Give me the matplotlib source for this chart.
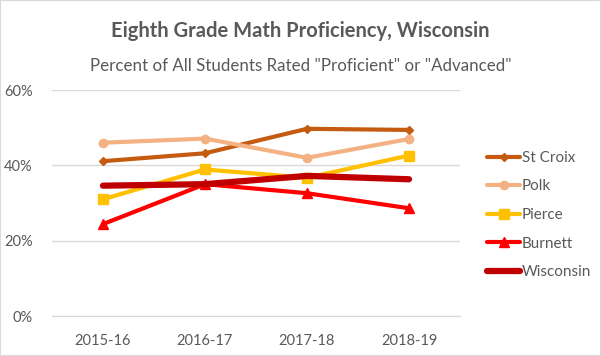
import matplotlib
matplotlib.use("Agg")
import matplotlib.pyplot as plt
from matplotlib.ticker import FuncFormatter
from matplotlib.patches import Rectangle

years = ["2015-16", "2016-17", "2017-18", "2018-19"]
st_croix = [41.1, 43.2, 49.7, 49.4]
polk = [46.0, 47.1, 42.0, 47.0]
pierce = [31.0, 38.9, 36.7, 42.6]
burnett = [24.4, 35.0, 32.6, 28.6]
wisconsin = [34.6, 35.0, 37.2, 36.3]

series = [
    ("St Croix", st_croix, "#C55A11", "D", 3, 4.5),
    ("Polk", polk, "#F4B183", "o", 3, 6),
    ("Pierce", pierce, "#FFC000", "s", 3, 7),
    ("Burnett", burnett, "#FF0000", "^", 3, 7),
    ("Wisconsin", wisconsin, "#C00000", None, 4.5, 0),
]

plt.rcParams['font.family'] = ['Lato', 'DejaVu Sans']
fig = plt.figure(figsize=(6.01, 3.56), dpi=100)
fig.patches.append(Rectangle((0, 0), 1, 1, transform=fig.transFigure,
                             fill=False, edgecolor="#D9D9D9", linewidth=1.5))

ax = fig.add_axes([52/601, 1-316/356, (460-52)/601, (316-90)/356])
x = list(range(len(years)))
for name, vals, color, marker, lw, ms in series:
    ax.plot(x, vals, color=color, lw=lw, marker=marker, markersize=ms,
            label=name, solid_capstyle="round")

ax.set_ylim(0, 60)
ax.set_xlim(-0.5, 3.5)
ax.set_yticks([0, 20, 40, 60])
ax.yaxis.set_major_formatter(FuncFormatter(lambda v, p: f"{v:.0f}%"))
ax.set_xticks(x)
ax.set_xticklabels(years)
ax.grid(axis="y", color="#D9D9D9", lw=1)
ax.set_axisbelow(True)
for s in ["top", "right", "left"]:
    ax.spines[s].set_visible(False)
ax.spines["bottom"].set_color("#D9D9D9")
ax.tick_params(axis="both", length=0, colors="#595959", labelsize=10.5)
ax.tick_params(axis="y", pad=14)
ax.tick_params(axis="x", pad=13)

leg = fig.legend(loc="center left", bbox_to_anchor=(473/601, 1-215/356),
                 frameon=False, fontsize=11, labelcolor="#595959",
                 handlelength=2.2, handletextpad=0.1, labelspacing=0.95)

fig.text(0.5, 1-31/356, "Eighth Grade Math Proficiency, Wisconsin",
         ha="center", va="center", fontsize=14.5, fontweight="bold", color="#595959")
fig.text(0.5, 1-66/356, 'Percent of All Students Rated "Proficient" or "Advanced"',
         ha="center", va="center", fontsize=12.2, color="#595959")

fig.savefig("out.png", dpi=100)
